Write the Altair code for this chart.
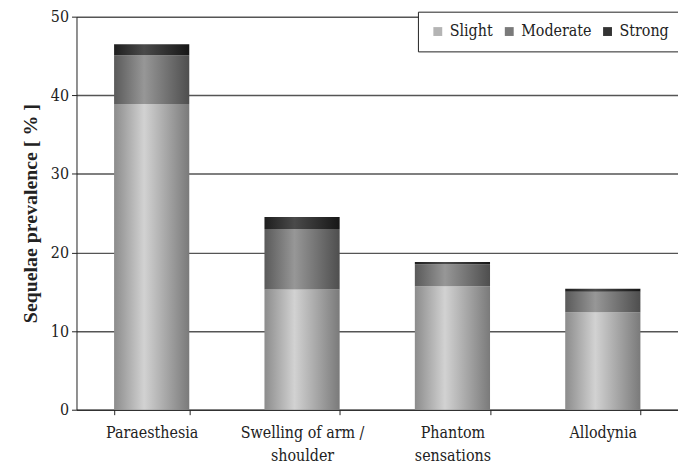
import altair as alt
import pandas as pd

categories = ["Paraesthesia", "Swelling of arm / shoulder", "Phantom sensations", "Allodynia"]
slight = [38.9, 15.3, 15.7, 12.4]
moderate = [6.2, 7.7, 2.8, 2.6]
strong = [1.4, 1.5, 0.3, 0.4]
levels = ["Slight", "Moderate", "Strong"]
y_ticks = [0, 10, 20, 30, 40, 50]

rows = []
for i, c in enumerate(categories):
    base = 0.0
    for lev, vals in zip(levels, [slight, moderate, strong]):
        rows.append({"category": c, "level": lev, "base": base, "top": base + vals[i]})
        base += vals[i]
df = pd.DataFrame(rows)

def grad(edge_l, mid, edge_r):
    return alt.Gradient(
        gradient="linear",
        stops=[
            alt.GradientStop(color=edge_l, offset=0),
            alt.GradientStop(color=mid, offset=0.4),
            alt.GradientStop(color=edge_r, offset=1),
        ],
        x1=0, x2=1, y1=0, y2=0,
    )

fills = {
    "Slight": grad("#8c8c8c", "#d2d2d2", "#7a7a7a"),
    "Moderate": grad("#5a5a5a", "#979797", "#4e4e4e"),
    "Strong": grad("#1e1e1e", "#4a4a4a", "#161616"),
}

serif_bold = "Liberation Serif"
serif = "DejaVu Serif Condensed, DejaVu Serif"

x_enc = alt.X(
    "category:N",
    sort=categories,
    scale=alt.Scale(paddingInner=0.5, paddingOuter=0.25),
    axis=alt.Axis(
        title=None,
        labelAngle=0,
        tickBand="extent",
        tickSize=5,
        tickColor="#222",
        domainColor="#222",
        labelFont=serif,
        labelFontSize=16,
        labelColor="#222",
        labelPadding=10,
        labelLineHeight=23,
        labelBaseline="top",
        labelExpr="datum.label == 'Swelling of arm / shoulder' ? ['Swelling of arm /', 'shoulder'] : datum.label == 'Phantom sensations' ? ['Phantom', 'sensations'] : datum.label",
    ),
)

y_enc = alt.Y(
    "base:Q",
    scale=alt.Scale(domain=[0, 50], nice=False),
    axis=alt.Axis(
        title="Sequelae prevalence [ % ]",
        titleFont=serif_bold,
        titleFontSize=20,
        titleFontWeight="bold",
        titleColor="#222",
        titlePadding=10,
        values=y_ticks,
        tickSize=5,
        tickColor="#222",
        domainColor="#222",
        labelFont=serif,
        labelFontSize=16,
        labelColor="#222",
        labelPadding=3,
        grid=True,
        gridColor="#555",
        gridWidth=1.5,
    ),
)

layers = []
for lev in levels:
    layers.append(
        alt.Chart(df)
        .transform_filter(alt.datum.level == lev)
        .mark_bar(fill=fills[lev], stroke=None)
        .encode(x=x_enc, y=y_enc, y2="top:Q")
    )

legend_df = pd.DataFrame({"level": levels})
legend_layer = (
    alt.Chart(legend_df)
    .mark_square(opacity=0)
    .encode(
        color=alt.Color(
            "level:N",
            sort=levels,
            scale=alt.Scale(domain=levels, range=["#b4b4b4", "#7a7a7a", "#333333"]),
            legend=alt.Legend(
                title=None,
                orient="none",
                legendX=344,
                legendY=-5,
                direction="horizontal",
                strokeColor="#222",
                fillColor="white",
                padding=12,
                labelFont=serif,
                labelFontSize=16,
                labelColor="#222",
                symbolType="square",
                symbolSize=80,
                symbolOpacity=1,
                symbolStrokeWidth=0,
                columnPadding=8,
                labelOffset=4,
            ),
        )
    )
)

chart = (
    alt.layer(*layers, legend_layer)
    .properties(
        width=606,
        height=396,
        autosize=alt.AutoSizeParams(type="none"),
        padding={"left": 69, "top": 7, "right": 0, "bottom": 55},
        background="white",
    )
    .configure_view(stroke=None)
)

chart.save("out.html", embed_options={"renderer": "svg", "actions": False})
